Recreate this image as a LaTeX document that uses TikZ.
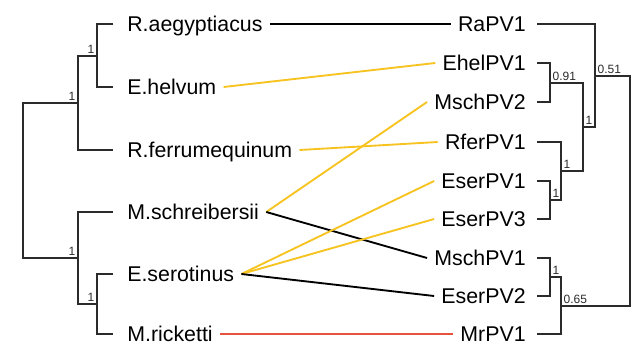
\documentclass[tikz,border=0pt]{standalone}
\usepackage{fontspec}
\setsansfont{Liberation Sans}
\usetikzlibrary{positioning}
\definecolor{cline}{HTML}{2B2B2B}
\definecolor{cyellow}{HTML}{F6C320}
\definecolor{cred}{HTML}{E5533C}
\tikzset{
  every picture/.style={font=\sffamily, line width=1pt},
  host/.style={anchor=west, inner xsep=5pt, inner ysep=0pt, text height=11.5pt, text depth=0pt, font=\sffamily\fontsize{16}{18}\selectfont},
  virus/.style={host, anchor=east},
  branch/.style={draw=cline, line width=0.9pt},
  support/.style={font=\sffamily\fontsize{9}{10}\selectfont, text=cline, inner sep=1.5pt},
  link/.style={draw=#1, line width=1.4pt},
  link/.default=black,
}

\begin{document}
\begin{tikzpicture}[x=0.75pt, y=-0.75pt]
  \useasboundingbox (0,0) rectangle (634,346);
  % host tree
  \node[host] (raeg) at (120,24) {R.aegyptiacus};
  \node[host] (ehel) at (120,87) {E.helvum};
  \node[host] (rfer) at (120,150) {R.ferrumequinum};
  \node[host] (msch) at (120,212) {M.schreibersii};
  \node[host] (eser) at (120,274) {E.serotinus};
  \node[host] (mric) at (120,334) {M.ricketti};
  \coordinate (hroot) at (23,181);
  \coordinate (ha) at (78,103); \coordinate (haa) at (97,56);
  \coordinate (hb) at (78,258); \coordinate (hbb) at (97,304);
  \draw[branch] ([xshift=-5pt]raeg.west) -| (haa) |- ([xshift=-5pt]ehel.west);
  \draw[branch] (haa) -| (ha) |- ([xshift=-5pt]rfer.west);
  \draw[branch] ([xshift=-5pt]eser.west) -| (hbb) |- ([xshift=-5pt]mric.west);
  \draw[branch] ([xshift=-5pt]msch.west) -| (hb) |- (hbb);
  \draw[branch] (ha) -| (hroot) |- (hb);
  \node[support, above left] (sha) at (ha) {1};
  \node[support, above left] (shaa) at (haa) {1};
  \node[support, above left] (shb) at (hb) {1};
  \node[support, above left] (shbb) at (hbb) {1};
  % virus tree
  \node[virus] (rapv1) at (533,24) {RaPV1};
  \node[virus] (ehelpv1) at (533,63) {EhelPV1};
  \node[virus] (mschpv2) at (533,102) {MschPV2};
  \node[virus] (rferpv1) at (533,142) {RferPV1};
  \node[virus] (eserpv1) at (533,181) {EserPV1};
  \node[virus] (eserpv3) at (533,219) {EserPV3};
  \node[virus] (mschpv1) at (533,258) {MschPV1};
  \node[virus] (eserpv2) at (533,296) {EserPV2};
  \node[virus] (mrpv1) at (533,334) {MrPV1};
  \coordinate (v1) at (550,83); \coordinate (v2) at (550,200);
  \coordinate (v3) at (561,171); \coordinate (v4) at (583,127);
  \coordinate (v5) at (595,76); \coordinate (v6) at (550,277);
  \coordinate (v7) at (561,306); \coordinate (vroot) at (630,191);
  \draw[branch] ([xshift=3pt]ehelpv1.east) -| (v1) |- ([xshift=3pt]mschpv2.east);
  \draw[branch] ([xshift=3pt]eserpv1.east) -| (v2) |- ([xshift=3pt]eserpv3.east);
  \draw[branch] ([xshift=3pt]rferpv1.east) -| (v3) |- (v2);
  \draw[branch] (v1) -| (v4) |- (v3);
  \draw[branch] ([xshift=3pt]rapv1.east) -| (v5) |- (v4);
  \draw[branch] ([xshift=3pt]mschpv1.east) -| (v6) |- ([xshift=3pt]eserpv2.east);
  \draw[branch] (v6) -| (v7) |- ([xshift=3pt]mrpv1.east);
  \draw[branch] (v5) -| (vroot) |- (v7);
  \node[support, above right] (sv1) at (v1) {0.91};
  \node[support, above right] (sv2) at (v2) {1};
  \node[support, above right] (sv3) at (v3) {1};
  \node[support, above right] (sv4) at (v4) {1};
  \node[support, above right] (sv5) at (v5) {0.51};
  \node[support, above right] (sv6) at (v6) {1};
  \node[support, above right] (sv7) at (v7) {0.65};
  % associations
  \draw[link] (raeg.east) -- (rapv1.west);
  \draw[link=cyellow] (ehel.east) -- (ehelpv1.west);
  \draw[link=cyellow] (rfer.east) -- (rferpv1.west);
  \draw[link=cyellow] (msch.east) -- (mschpv2.west);
  \draw[link] (msch.east) -- (mschpv1.west);
  \draw[link=cyellow] (eser.east) -- (eserpv1.west);
  \draw[link=cyellow] (eser.east) -- (eserpv3.west);
  \draw[link] (eser.east) -- (eserpv2.west);
  \draw[link=cred] (mric.east) -- (mrpv1.west);
\end{tikzpicture}
\end{document}
